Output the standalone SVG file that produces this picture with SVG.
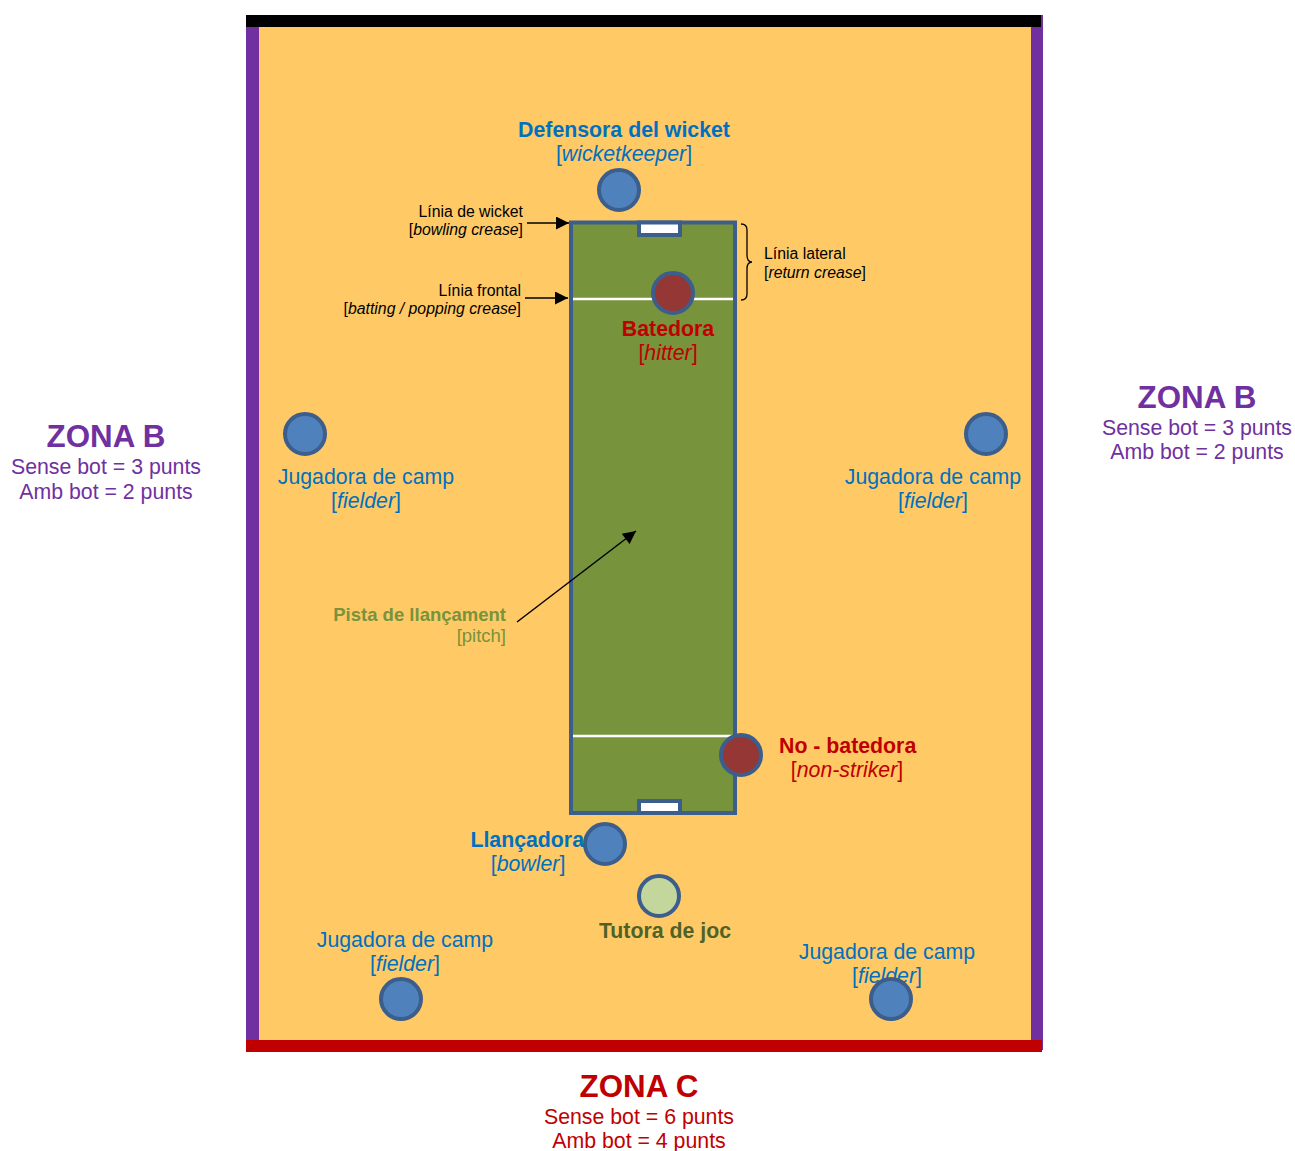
<svg xmlns="http://www.w3.org/2000/svg" width="1295" height="1151" viewBox="0 0 1295 1151">
<defs>
<style>
text{font-family:"Liberation Sans",Arial,sans-serif;}
.b{font-weight:bold;}
.i{font-style:italic;}
.blue{fill:#0070C0;}
.red{fill:#C00000;}
.purple{fill:#7030A0;}
.gtxt{fill:#77933C;}
.dg{fill:#4F6228;}
.lbl{font-size:21.3px;}
.sm{font-size:15.8px;fill:#000;}
.zone{font-size:31.3px;font-weight:bold;}
.pl{fill:#4F81BD;stroke:#3B5E8C;stroke-width:4;}
.bat{fill:#953735;stroke:#3B5E8C;stroke-width:4;}
.tut{fill:#C3D69B;stroke:#3B5E8C;stroke-width:4;}
.arr{stroke:#000;stroke-width:1.5;fill:none;}
</style>
<marker id="ahL" viewBox="0 0 10 10" refX="10" refY="5" markerWidth="15" markerHeight="13" markerUnits="userSpaceOnUse" orient="auto">
<path d="M0,0 L10,5 L0,10 z" fill="#000"/>
</marker>
</defs>

<g id="field">
<rect x="259" y="27" width="772" height="1013" fill="#FFCA66"/>
<rect x="246" y="15" width="13" height="1037" fill="#7030A0"/>
<rect x="1031" y="15" width="12" height="1035" fill="#7030A0"/>
<rect x="246" y="15" width="795" height="12" fill="#000"/>
<rect x="246" y="1040" width="796" height="12" fill="#C00000"/>
</g>

<g id="pitch">
<rect x="571" y="222.5" width="164" height="590.5" fill="#77933C" stroke="#3B5E8C" stroke-width="4"/>
<line x1="573" y1="299" x2="733" y2="299" stroke="#FFFFFF" stroke-width="2.5"/>
<line x1="573" y1="736" x2="733" y2="736" stroke="#FFFFFF" stroke-width="2.5"/>
<rect x="639" y="222.5" width="41" height="12.5" fill="#FFFFFF" stroke="#3B5E8C" stroke-width="4"/>
<rect x="639" y="801" width="41" height="12" fill="#FFFFFF" stroke="#3B5E8C" stroke-width="4"/>
</g>

<g id="connectors">
<line class="arr" x1="527" y1="223" x2="569" y2="223" marker-end="url(#ahL)"/>
<line class="arr" x1="525" y1="298" x2="568" y2="298" marker-end="url(#ahL)"/>
<line class="arr" x1="517" y1="622" x2="636" y2="531" marker-end="url(#ahL)"/>
<path d="M741,224 Q747,224 747,230 L747,255 Q747,262 752,262 Q747,262 747,269 L747,294 Q747,300 741,300" fill="none" stroke="#000" stroke-width="1.3"/>
</g>

<g id="wicketkeeper">
<circle class="pl" cx="619" cy="190" r="20"/>
<text class="lbl b blue" x="624" y="137" text-anchor="middle">Defensora del wicket</text>
<text class="lbl blue" x="624" y="161" text-anchor="middle">[<tspan class="i">wicketkeeper</tspan>]</text>
</g>

<g id="bowling-crease">
<text class="sm" x="523" y="217" text-anchor="end">Línia de wicket</text>
<text class="sm" x="523" y="235" text-anchor="end">[<tspan class="i">bowling crease</tspan>]</text>
</g>

<g id="popping-crease">
<text class="sm" x="521" y="296" text-anchor="end">Línia frontal</text>
<text class="sm" x="521" y="314" text-anchor="end">[<tspan class="i">batting / popping crease</tspan>]</text>
</g>

<g id="return-crease">
<text class="sm" x="764" y="259">Línia lateral</text>
<text class="sm" x="764" y="278">[<tspan class="i">return crease</tspan>]</text>
</g>

<g id="hitter">
<circle class="bat" cx="673" cy="293" r="20"/>
<text class="lbl b red" x="668" y="336" text-anchor="middle">Batedora</text>
<text class="lbl red" x="668" y="360" text-anchor="middle">[<tspan class="i">hitter</tspan>]</text>
</g>

<g id="fielder-left">
<circle class="pl" cx="305" cy="434" r="20"/>
<text class="lbl blue" x="366" y="484" text-anchor="middle">Jugadora de camp</text>
<text class="lbl blue" x="366" y="508" text-anchor="middle">[<tspan class="i">fielder</tspan>]</text>
</g>

<g id="fielder-right">
<circle class="pl" cx="986" cy="434" r="20"/>
<text class="lbl blue" x="933" y="484" text-anchor="middle">Jugadora de camp</text>
<text class="lbl blue" x="933" y="508" text-anchor="middle">[<tspan class="i">fielder</tspan>]</text>
</g>

<g id="pitch-label">
<text class="b gtxt" style="font-size:18.5px" x="506" y="621" text-anchor="end">Pista de llançament</text>
<text class="gtxt" style="font-size:18.5px" x="506" y="642" text-anchor="end">[pitch]</text>
</g>

<g id="non-striker">
<circle class="bat" cx="741" cy="755" r="20"/>
<text class="lbl b red" x="779" y="753">No - batedora</text>
<text class="lbl red" x="847" y="777" text-anchor="middle">[<tspan class="i">non-striker</tspan>]</text>
</g>

<g id="bowler">
<circle class="pl" cx="605" cy="844" r="20"/>
<text class="lbl b blue" x="584" y="847" text-anchor="end">Llançadora</text>
<text class="lbl blue" x="528" y="871" text-anchor="middle">[<tspan class="i">bowler</tspan>]</text>
</g>

<g id="umpire">
<circle class="tut" cx="659" cy="896" r="20"/>
<text class="lbl b dg" x="665" y="938" text-anchor="middle">Tutora de joc</text>
</g>

<g id="fielder-bottom-left">
<text class="lbl blue" x="405" y="947" text-anchor="middle">Jugadora de camp</text>
<text class="lbl blue" x="405" y="971" text-anchor="middle">[<tspan class="i">fielder</tspan>]</text>
<circle class="pl" cx="401" cy="999" r="20"/>
</g>

<g id="fielder-bottom-right">
<text class="lbl blue" x="887" y="959" text-anchor="middle">Jugadora de camp</text>
<text class="lbl blue" x="887" y="983" text-anchor="middle">[<tspan class="i">fielder</tspan>]</text>
<circle class="pl" cx="891" cy="999" r="20"/>
</g>

<g id="zona-b-left">
<text class="zone purple" x="106" y="447" text-anchor="middle">ZONA B</text>
<text class="lbl purple" x="106" y="474" text-anchor="middle">Sense bot = 3 punts</text>
<text class="lbl purple" x="106" y="499" text-anchor="middle">Amb bot = 2 punts</text>
</g>

<g id="zona-b-right">
<text class="zone purple" x="1197" y="408" text-anchor="middle">ZONA B</text>
<text class="lbl purple" x="1197" y="435" text-anchor="middle">Sense bot = 3 punts</text>
<text class="lbl purple" x="1197" y="459" text-anchor="middle">Amb bot = 2 punts</text>
</g>

<g id="zona-c">
<text class="zone red" x="639" y="1097" text-anchor="middle">ZONA C</text>
<text class="lbl red" x="639" y="1124" text-anchor="middle">Sense bot = 6 punts</text>
<text class="lbl red" x="639" y="1148" text-anchor="middle">Amb bot = 4 punts</text>
</g>
</svg>
